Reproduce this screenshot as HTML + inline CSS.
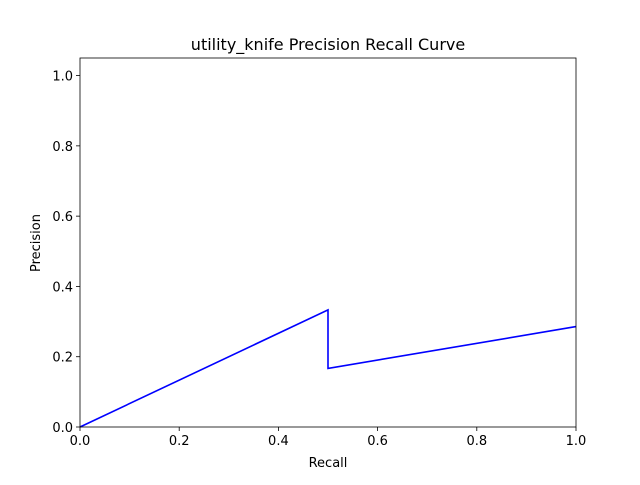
<!DOCTYPE html>
<html><head><meta charset="utf-8"><style>
body{margin:0;background:#fff;}
text{font-family:"DejaVu Sans","Liberation Sans",sans-serif;fill:#000;}
</style></head><body>
<svg id="chart" width="640" height="480">
<rect width="640" height="480" fill="#fff"/>
<text x="328" y="50" font-size="16" text-anchor="middle">utility_knife Precision Recall Curve</text>
<g id="axes"></g>
<text x="328" y="467" font-size="13" text-anchor="middle">Recall</text>
<text x="40" y="243" font-size="13" text-anchor="middle" transform="rotate(-90 40 243)">Precision</text>
</svg>
<script>
const recall=[0,0.5,0.5,1.0];
const precision=[0,0.3333,0.1667,0.2857];
const xTicks=[0,0.2,0.4,0.6,0.8,1.0];
const yTicks=[0,0.2,0.4,0.6,0.8,1.0];
const X0=80,X1=576,Y0=427,Y1=58,XMAX=1,YMAX=1.05;
const sx=v=>X0+v/XMAX*(X1-X0);
const sy=v=>Y0-v/YMAX*(Y0-Y1);
const NS="http://www.w3.org/2000/svg";
const g=document.getElementById('axes');
function mk(t,a){const e=document.createElementNS(NS,t);for(const k in a)e.setAttribute(k,a[k]);g.appendChild(e);return e;}
const line=mk('polyline',{points:recall.map((r,i)=>sx(r)+','+sy(precision[i])).join(' '),fill:'none',stroke:'#0000ff','stroke-width':1.6});


xTicks.forEach(v=>{
const t=mk('line',{x1:sx(v),x2:sx(v),y1:Y0,y2:Y0+4,stroke:'#000','stroke-width':0.8});


const l=mk('text',{x:sx(v),y:Y0+18,'font-size':13,'text-anchor':'middle'});l.textContent=v.toFixed(1);


});
yTicks.forEach(v=>{
const t=mk('line',{x1:X0-4,x2:X0,y1:sy(v),y2:sy(v),stroke:'#000','stroke-width':0.8});


const l=mk('text',{x:X0-7,y:sy(v)+5,'font-size':13,'text-anchor':'end'});l.textContent=v.toFixed(1);


});
const f=mk('rect',{x:X0,y:Y1,width:X1-X0,height:Y0-Y1,fill:'none',stroke:'#000','stroke-width':0.8});


</script>
</body></html>
